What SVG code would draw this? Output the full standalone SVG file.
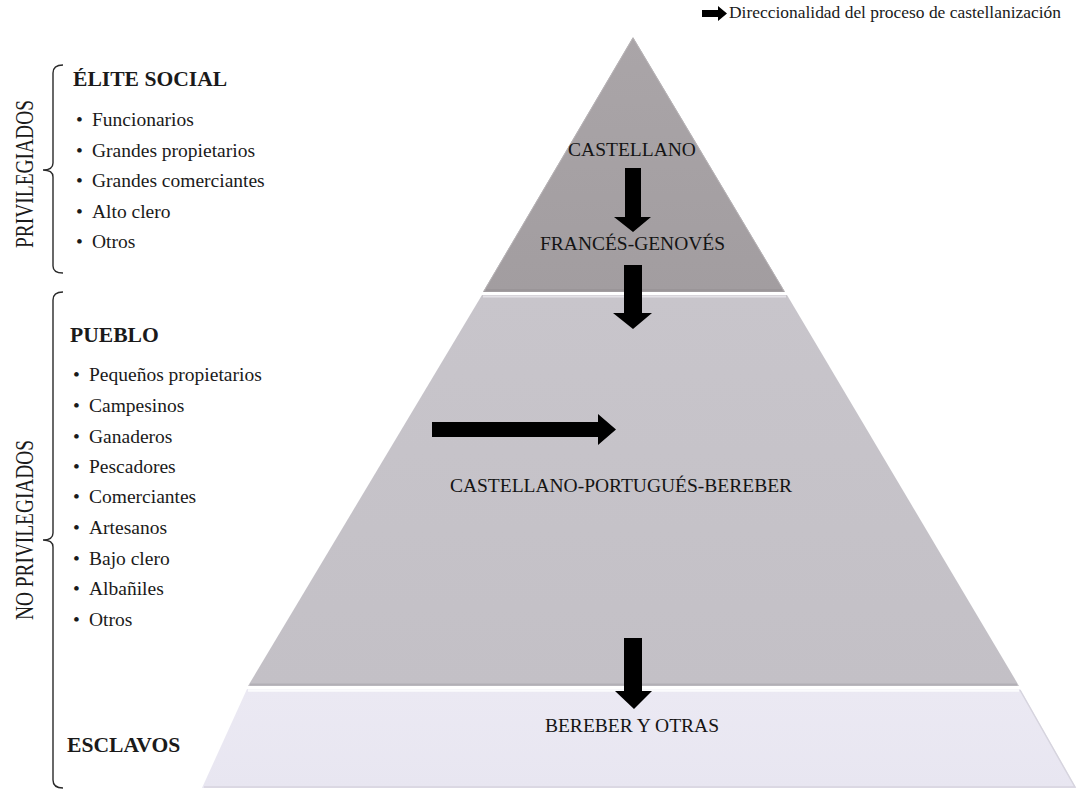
<svg xmlns="http://www.w3.org/2000/svg" width="1077" height="790" viewBox="0 0 1077 790">
  <defs>
    <style>
      text { font-family: "Liberation Serif", "Times New Roman", serif; fill: #1a1a1a; }
      .head { font-size: 21.6px; font-weight: bold; }
      .item { font-size: 19.5px; }
      .side { font-size: 19.4px; }
      .tier-label { font-size: 19.5px; text-anchor: middle; fill: #141414; }
      .legend { font-size: 17px; }
      .brace { fill: none; stroke: #2a2a2a; stroke-width: 1.4; }
      .arrow { fill: #000; }
      .hl { stroke-width: 2.2; fill: none; }
    </style>
    <linearGradient id="g-top" x1="0" y1="0" x2="0" y2="1">
      <stop offset="0" stop-color="#aaa5a8"/>
      <stop offset="1" stop-color="#a29da0"/>
    </linearGradient>
    <linearGradient id="g-mid" x1="0" y1="0" x2="0" y2="1">
      <stop offset="0" stop-color="#c8c5cb"/>
      <stop offset="1" stop-color="#c3c0c6"/>
    </linearGradient>
    <linearGradient id="g-bot" x1="0" y1="0" x2="0" y2="1">
      <stop offset="0" stop-color="#ebe9f3"/>
      <stop offset="1" stop-color="#e8e6f1"/>
    </linearGradient>
  </defs>

  <rect width="1077" height="790" fill="#ffffff"/>

  <!-- legend -->
  <g id="legend">
    <polygon class="arrow" points="702,10 718,10 718,6 727,13.5 718,21 718,17 702,17"/>
    <text class="legend" x="729" y="18" textLength="332" lengthAdjust="spacingAndGlyphs">Direccionalidad del proceso de castellanización</text>
  </g>

  <!-- pyramid tiers -->
  <g id="tier-top">
    <polygon points="633,37 785,292 483,292" fill="url(#g-top)"/>
    <line class="hl" x1="486" y1="290" x2="782" y2="290" stroke="#9a9598"/>
    <polyline points="484,291 633,38 784,291" fill="none" stroke="#b8b4b7" stroke-width="1"/>
    <text class="tier-label" x="632" y="156">CASTELLANO</text>
    <text class="tier-label" x="632.5" y="250" textLength="185" lengthAdjust="spacingAndGlyphs">FRANCÉS-GENOVÉS</text>
  </g>

  <g id="tier-middle">
    <polygon points="482,295 787,295 1019,686 248,686" fill="url(#g-mid)"/>
    <line class="hl" x1="483" y1="296.5" x2="786" y2="296.5" stroke="#e4e2e7"/>
    <line class="hl" x1="250" y1="684.5" x2="1017" y2="684.5" stroke="#b2afb5"/>
    <text class="tier-label" x="621" y="492">CASTELLANO-PORTUGUÉS-BEREBER</text>
  </g>

  <g id="tier-bottom">
    <polygon points="247,689 1020,689 1076,788 202,788" fill="url(#g-bot)"/>
    <line x1="248" y1="690.5" x2="1019" y2="690.5" stroke="#fbfbfd" stroke-width="2.5"/>
    <polyline points="1020,690 1075,787 204,787" fill="none" stroke="#d6d4de" stroke-width="1.5"/>
    <text class="tier-label" x="632" y="732">BEREBER Y OTRAS</text>
  </g>

  <!-- arrows showing the direction of castilianization -->
  <g id="connectors">
    <polygon class="arrow" points="625,168 641,168 641,217 651,217 633,232 614,217 625,217"/>
    <polygon class="arrow" points="624,265 642,265 642,313 652,313 633,329 613,313 624,313"/>
    <polygon class="arrow" points="432,422 598,422 598,414 616,429.5 598,445 598,437 432,437"/>
    <polygon class="arrow" points="624,638 642,638 642,691 652,691 634,709 615,691 624,691"/>
  </g>

  <!-- privileged group -->
  <g id="privilegiados">
    <path class="brace" d="M63,65 Q53,65 53,73 L53,163 Q53,170 43,170 Q53,170 53,177 L53,266 Q53,273 63,273"/>
    <text class="side" transform="translate(33,174) rotate(-90) scale(1,1.3)" text-anchor="middle" textLength="148" lengthAdjust="spacingAndGlyphs">PRIVILEGIADOS</text>
    <text class="head" x="73" y="86">ÉLITE SOCIAL</text>
    <g class="item">
      <text x="76" y="126">•</text><text x="92" y="126">Funcionarios</text>
      <text x="76" y="156.5">•</text><text x="92" y="156.5">Grandes propietarios</text>
      <text x="76" y="187">•</text><text x="92" y="187">Grandes comerciantes</text>
      <text x="76" y="217.5">•</text><text x="92" y="217.5">Alto clero</text>
      <text x="76" y="248">•</text><text x="92" y="248">Otros</text>
    </g>
  </g>

  <!-- non-privileged group -->
  <g id="no-privilegiados">
    <path class="brace" d="M63,292 Q53,292 53,300 L53,533 Q53,540 43,540 Q53,540 53,547 L53,780 Q53,788 63,788"/>
    <text class="side" transform="translate(33,530) rotate(-90) scale(1,1.3)" text-anchor="middle" textLength="180" lengthAdjust="spacingAndGlyphs">NO PRIVILEGIADOS</text>
    <text class="head" x="70" y="342">PUEBLO</text>
    <g class="item">
      <text x="73" y="381">•</text><text x="89" y="381">Pequeños propietarios</text>
      <text x="73" y="412">•</text><text x="89" y="412">Campesinos</text>
      <text x="73" y="443">•</text><text x="89" y="443">Ganaderos</text>
      <text x="73" y="473">•</text><text x="89" y="473">Pescadores</text>
      <text x="73" y="503">•</text><text x="89" y="503">Comerciantes</text>
      <text x="73" y="534">•</text><text x="89" y="534">Artesanos</text>
      <text x="73" y="565">•</text><text x="89" y="565">Bajo clero</text>
      <text x="73" y="595">•</text><text x="89" y="595">Albañiles</text>
      <text x="73" y="626">•</text><text x="89" y="626">Otros</text>
    </g>
    <text class="head" x="67" y="752">ESCLAVOS</text>
  </g>
</svg>
